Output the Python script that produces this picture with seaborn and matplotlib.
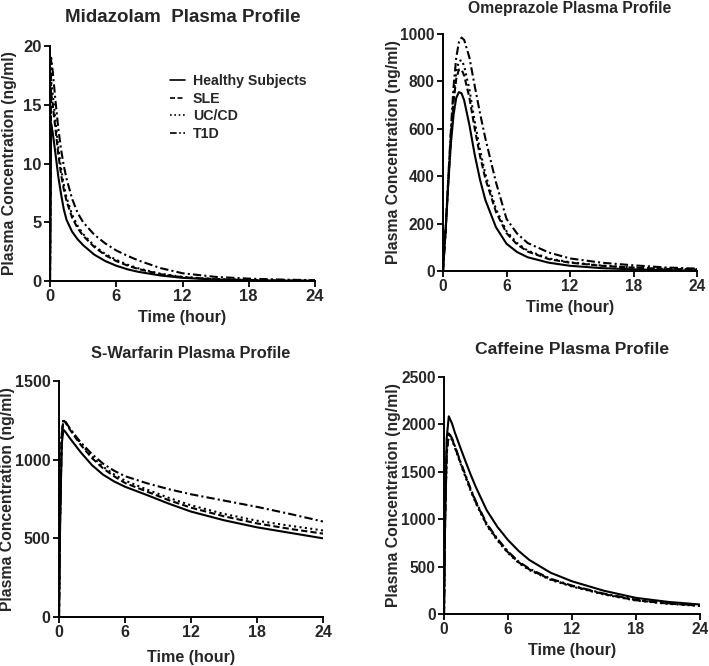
import pandas as pd
import seaborn as sns
import matplotlib.pyplot as plt

groups = ["Healthy Subjects", "SLE", "UC/CD", "T1D"]

# Midazolam (ng/ml)
mdz_time = [0, 0.1, 0.25, 0.5, 0.75, 1, 1.25, 1.5, 2, 2.5, 3, 4, 5, 6, 7, 8, 10, 12, 15, 18, 21, 24]
mdz_healthy = [0, 13.4, 12.6, 10.8, 8.9, 7.4, 6.1, 5.2, 4.2, 3.55, 3.05, 2.25, 1.7, 1.3, 1.0, 0.78, 0.47, 0.27, 0.12, 0.06, 0.03, 0.02]
mdz_sle = [0, 16.0, 15.0, 12.9, 10.8, 9.1, 7.8, 6.8, 5.4, 4.5, 3.85, 2.9, 2.2, 1.7, 1.32, 1.02, 0.58, 0.32, 0.15, 0.08, 0.04, 0.02]
mdz_uccd = [0, 17.0, 15.9, 13.6, 11.4, 9.6, 8.2, 7.1, 5.65, 4.7, 4.0, 3.0, 2.3, 1.8, 1.4, 1.08, 0.62, 0.35, 0.17, 0.09, 0.05, 0.03]
mdz_t1d = [0, 19.0, 17.8, 15.3, 13.0, 11.2, 9.8, 8.7, 7.0, 5.8, 5.0, 3.95, 3.2, 2.6, 2.15, 1.75, 1.1, 0.66, 0.35, 0.2, 0.12, 0.07]

# Omeprazole (ng/ml)
ome_time = [0, 0.25, 0.5, 0.75, 1, 1.25, 1.5, 1.75, 2, 2.5, 3, 3.5, 4, 5, 6, 7, 8, 10, 12, 15, 18, 21, 24]
ome_healthy = [0, 170, 370, 540, 660, 730, 755, 750, 720, 615, 490, 385, 300, 185, 115, 80, 58, 35, 22, 12, 7, 4, 2]
ome_sle = [0, 175, 380, 570, 715, 810, 850, 850, 825, 730, 600, 485, 390, 250, 160, 112, 82, 50, 35, 22, 14, 9, 6]
ome_uccd = [0, 178, 385, 580, 735, 840, 885, 890, 865, 765, 630, 510, 410, 262, 168, 118, 86, 53, 37, 23, 15, 10, 7]
ome_t1d = [0, 180, 395, 600, 780, 900, 965, 985, 975, 900, 780, 665, 560, 375, 220, 158, 118, 78, 53, 35, 24, 15, 10]

# S-Warfarin (ng/ml)
war_time = [0, 0.1, 0.25, 0.4, 0.6, 1, 1.5, 2, 3, 4, 5, 6, 8, 10, 12, 15, 18, 21, 24]
war_healthy = [0, 600, 1100, 1190, 1175, 1135, 1090, 1045, 965, 905, 862, 828, 775, 720, 670, 615, 570, 535, 500]
war_sle = [0, 630, 1160, 1250, 1235, 1190, 1140, 1092, 1010, 945, 895, 852, 797, 742, 695, 640, 595, 560, 530]
war_uccd = [0, 630, 1160, 1252, 1238, 1195, 1148, 1100, 1020, 955, 907, 867, 810, 757, 710, 655, 612, 580, 550]
war_t1d = [0, 632, 1162, 1255, 1240, 1198, 1152, 1108, 1035, 975, 930, 895, 850, 812, 780, 740, 700, 655, 607]

# Caffeine (ng/ml)
caf_time = [0, 0.1, 0.25, 0.45, 0.75, 1, 1.5, 2, 2.5, 3, 4, 5, 6, 7, 8, 10, 12, 15, 18, 21, 24]
caf_healthy = [0, 1000, 1850, 2085, 2010, 1920, 1765, 1615, 1470, 1335, 1095, 920, 780, 665, 570, 435, 345, 245, 170, 128, 100]
caf_sle = [0, 950, 1700, 1905, 1845, 1770, 1610, 1460, 1310, 1175, 945, 785, 650, 545, 470, 365, 295, 210, 145, 110, 88]
caf_uccd = [0, 945, 1690, 1895, 1835, 1760, 1600, 1450, 1300, 1165, 935, 775, 642, 538, 463, 360, 290, 206, 142, 107, 85]
caf_t1d = [0, 955, 1710, 1912, 1855, 1780, 1620, 1470, 1320, 1185, 955, 795, 660, 553, 478, 372, 300, 215, 150, 114, 90]


def make_df(time, series):
    frames = []
    for name, vals in zip(groups, series):
        frames.append(pd.DataFrame({"time": time, "conc": vals, "group": name}))
    return pd.concat(frames, ignore_index=True)


# title, data, ymax, ystep, axes box in pixels (l, t, r, b), title size, title pad,
# tick size, ylabel x, xlabel y (axes fraction)
panels = [
    ("Midazolam  Plasma Profile", make_df(mdz_time, [mdz_healthy, mdz_sle, mdz_uccd, mdz_t1d]),
     20, 5, [50, 46, 315, 281], 13.5, 17.5, 12, -0.125, -0.123),
    ("Omeprazole Plasma Profile", make_df(ome_time, [ome_healthy, ome_sle, ome_uccd, ome_t1d]),
     1000, 200, [443, 34, 697, 271], 11.3, 15, 11.2, -0.165, -0.122),
    ("S-Warfarin Plasma Profile", make_df(war_time, [war_healthy, war_sle, war_uccd, war_t1d]),
     1500, 500, [59, 381, 323, 617], 11.8, 16.5, 11.5, -0.167, -0.140),
    ("Caffeine Plasma Profile", make_df(caf_time, [caf_healthy, caf_sle, caf_uccd, caf_t1d]),
     2500, 500, [444, 377, 700, 614], 12.6, 16.5, 11.2, -0.168, -0.122),
]

sns.set_style("ticks")
plt.rcParams["font.family"] = ["Liberation Sans", "DejaVu Sans"]
plt.rcParams["font.weight"] = "bold"
plt.rcParams["axes.labelweight"] = "bold"
plt.rcParams["axes.titleweight"] = "bold"

W, H = 709, 666
fig = plt.figure(figsize=(W / 100, H / 100), dpi=100)

dash_map = {"Healthy Subjects": "", "SLE": (3, 1.5), "UC/CD": (1, 1.6), "T1D": (4, 1.5, 1, 1.5)}

for i, (title, df, ymax, ystep, box, tsize, tpad, ticksize, ylx, xly) in enumerate(panels):
    l, t, r, b = box
    ax = fig.add_axes([l / W, (H - b) / H, (r - l) / W, (b - t) / H])
    sns.lineplot(data=df, x="time", y="conc", style="group", dashes=dash_map,
                 color="black", linewidth=1.5, estimator=None, ax=ax)
    ax.set_xlim(0, 24)
    ax.set_ylim(0, ymax)
    ax.set_xticks(range(0, 25, 6))
    ax.set_yticks(range(0, ymax + 1, ystep))
    ax.tick_params(labelsize=ticksize, width=1.3, length=4, color="black", pad=2)
    for s in ["left", "bottom"]:
        ax.spines[s].set_linewidth(1.4)
        ax.spines[s].set_color("black")
    sns.despine(ax=ax)
    ax.set_title(title, fontsize=tsize, pad=tpad)
    ax.set_xlabel("Time (hour)", fontsize=11.6)
    ax.set_ylabel("Plasma Concentration (ng/ml)", fontsize=11.3)
    ax.yaxis.set_label_coords(ylx, 0.5)
    ax.xaxis.set_label_coords(0.5, xly)
    if i == 0:
        handles, labels = ax.get_legend_handles_labels()
        for h in handles:
            h.set_color("black")
            h.set_linewidth(1.2)
        ax.legend(handles, labels, frameon=False, fontsize=10.2, loc="upper left",
                  bbox_to_anchor=(0.43, 0.905), handlelength=1.1, handletextpad=0.55,
                  labelspacing=0.25, borderaxespad=0)
    else:
        ax.get_legend().remove()

fig.savefig("out.png", dpi=100)
